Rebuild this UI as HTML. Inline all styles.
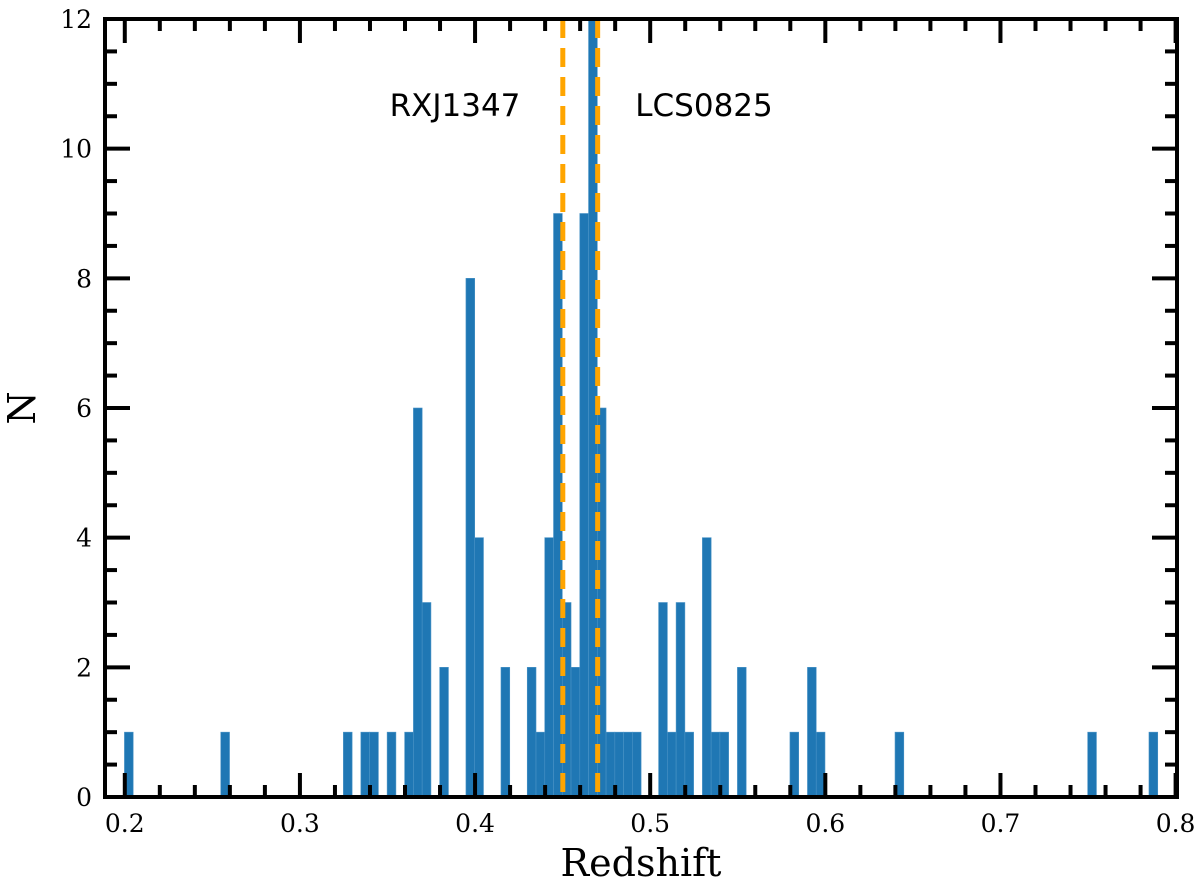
<!DOCTYPE html>
<html><head><meta charset="utf-8"><style>
body{margin:0;background:#fff}
svg text{font-family:"DejaVu Serif","Liberation Serif",serif}
</style></head><body>
<svg id="chart" width="1200" height="890" xmlns="http://www.w3.org/2000/svg">
<g id="bars"></g>
<g id="vlines"></g>
<g id="axes"></g>
<text x="455" y="116" text-anchor="middle" font-size="31" style="font-family:'DejaVu Sans',sans-serif">RXJ1347</text>
<text x="704" y="116" text-anchor="middle" font-size="31" style="font-family:'DejaVu Sans',sans-serif">LCS0825</text>
<text x="641" y="876" text-anchor="middle" font-size="38">Redshift</text>
<text transform="translate(35,408) rotate(-90)" text-anchor="middle" font-size="38">N</text>
</svg>
<script>
const binStart = 0.1998;
const binWidth = 0.005;
const binIndices = [0,11,25,27,28,30,32,33,34,36,39,40,43,46,47,48,49,50,51,52,53,54,55,56,57,58,61,62,63,64,66,67,68,70,76,78,79,88,110,117];
const binCounts  = [1,1,1,1,1,1,1,6,3,2,8,4,2,2,1,4,9,3,2,9,12,6,1,1,1,1,3,1,3,1,4,1,1,2,1,2,1,1,1,1];
const clusterNames = ["RXJ1347","LCS0825"];
const clusterZ = [0.4501,0.4700];
const xTicks = [0.2,0.3,0.4,0.5,0.6,0.7,0.8];
const yTicks = [0,2,4,6,8,10,12];

const L=105,R=1177,T=19,B=797;
const x0=0.1887,x1=0.8008;
const X=v=>L+(v-x0)/(x1-x0)*(R-L);
const Y=v=>B-v/12*(B-T);
const NS="http://www.w3.org/2000/svg";
function mk(tag,attrs,parent){const e=document.createElementNS(NS,tag);for(const k in attrs)e.setAttribute(k,attrs[k]);parent.appendChild(e);return e;}
const bars=document.getElementById('bars');
binIndices.forEach((b,i)=>{
  const a=X(binStart+b*binWidth), c=X(binStart+(b+1)*binWidth);
  const r=mk('rect',{x:a,y:Y(binCounts[i]),width:c-a,height:B-Y(binCounts[i]),fill:'#1f77b4',stroke:'#4a93c6','stroke-width':0.6},bars);
  
  
});
const vl=document.getElementById('vlines');
clusterZ.forEach((z,i)=>{
  const l=mk('line',{x1:X(z),x2:X(z),y1:T,y2:B,stroke:'#ffa500','stroke-width':5,'stroke-dasharray':'19 10'},vl);
  
  
});
const ax=document.getElementById('axes');
const fr=mk('rect',{x:L,y:T,width:R-L,height:B-T,fill:'none',stroke:'#000','stroke-width':4},ax);


for(let k=0;k<=30;k++){
  const v=0.2+k*0.02, px=X(v), major=(k%5===0), len=major?24:12;
  mk('line',{x1:px,x2:px,y1:B,y2:B-len,stroke:'#000','stroke-width':4},ax);
  mk('line',{x1:px,x2:px,y1:T,y2:T+len,stroke:'#000','stroke-width':4},ax);
}
xTicks.forEach(v=>{
  const t=mk('text',{x:X(v),y:B+35,'text-anchor':'middle','font-size':25},ax);
  t.textContent=v.toFixed(1);
  
  
});
for(let k=0;k<=24;k++){
  const v=k*0.5, py=Y(v), major=(k%4===0), len=major?25:12;
  mk('line',{x1:L,x2:L+len,y1:py,y2:py,stroke:'#000','stroke-width':4},ax);
  mk('line',{x1:R,x2:R-len,y1:py,y2:py,stroke:'#000','stroke-width':4},ax);
}
yTicks.forEach(v=>{
  const t=mk('text',{x:L-13,y:Y(v)+9,'text-anchor':'end','font-size':25},ax);
  t.textContent=v;
  
  
});
</script>
</body></html>
